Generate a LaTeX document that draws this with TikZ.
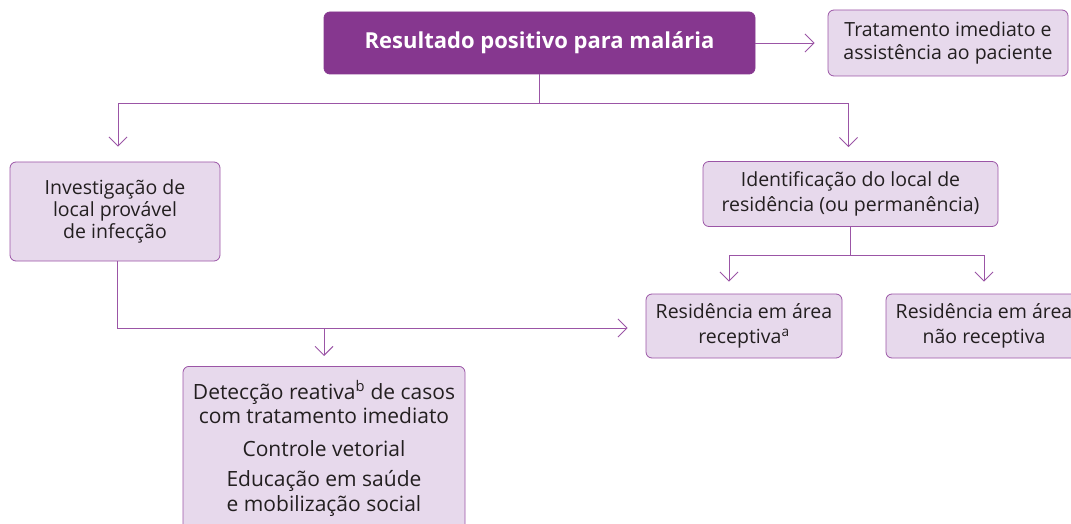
\documentclass[tikz,border=0pt]{standalone}
\usepackage{fontspec}
\setmainfont{Open Sans}
\usetikzlibrary{arrows.meta}
\definecolor{roxo}{HTML}{86378F}
\definecolor{lilas}{HTML}{E7D9EC}
\definecolor{linha}{HTML}{9B55A6}
\definecolor{texto}{HTML}{231F20}

\begin{document}
\begin{tikzpicture}[x=1pt,y=-1pt,
  caixa/.style={draw=linha, fill=lilas, rounded corners=6pt, text=texto, align=center,
    font=\fontsize{19.5}{25}\selectfont, line width=0.8pt, inner sep=0pt},
  liga/.style={draw=linha, line width=0.9pt},
  seta/.style={liga, -{Straight Barb[length=9pt,width=18pt]}}]
\useasboundingbox (0,0) rectangle (1071,524);
\node[caixa, fill=roxo, draw=roxo, text=white, font=\fontsize{22}{26}\selectfont\bfseries,
  minimum width=431pt, minimum height=62pt] (res) at (539.5,43) {Resultado positivo para malária};
\node[caixa, minimum width=240pt, minimum height=66pt, font=\fontsize{19.5}{23}\selectfont]
  (trat) at (948,43) {Tratamento imediato e\\assistência ao paciente};
\node[caixa, minimum width=210pt, minimum height=99pt, font=\fontsize{19.5}{22}\selectfont]
  (inv) at (115,211.5) {Investigação de\\local provável\\ de infecção};
\node[caixa, minimum width=295pt, minimum height=65pt] (ide) at (850.5,194)
  {Identificação do local de\\residência (ou permanência)};
\node[caixa, minimum width=196pt, minimum height=64pt] (rec) at (744,326)
  {Residência em área\\receptiva\textsuperscript{a}};
\node[caixa, minimum width=196pt, minimum height=64pt] (nrec) at (984,326)
  {Residência em área\\não receptiva};
\node[caixa, anchor=north, minimum width=282pt, minimum height=164pt,
  font=\fontsize{21}{24.5}\selectfont] (det) at (324,366)
  {Detecção reativa\textsuperscript{b} de casos\\com tratamento imediato\\[8pt]
   Controle vetorial\\[6pt]Educação em saúde\\e mobilização social};

\draw[seta, shorten >=13pt] (res.east) -- (trat.west);
\draw[liga] (res.south) -- ++(0,29) coordinate (c1);
\draw[seta, shorten >=15pt] (c1) -| ([xshift=3pt]inv.north);
\draw[seta, shorten >=14pt] (c1) -| ([xshift=-2pt]ide.north);
\coordinate (e1) at ([yshift=-2pt]rec.west);
\draw[seta, shorten >=18pt] ([xshift=2pt]inv.south) |- (e1);
\coordinate (c2) at (det.north |- e1);
\draw[seta, shorten >=10pt] (c2) -- (det.north);
\draw[liga] (ide.south) -- ++(0,29) coordinate (c3);
\draw[seta, shorten >=12pt] (c3) -| ([xshift=-15pt]rec.north);
\draw[seta, shorten >=12pt] (c3) -| (nrec.north);
\end{tikzpicture}
\end{document}
